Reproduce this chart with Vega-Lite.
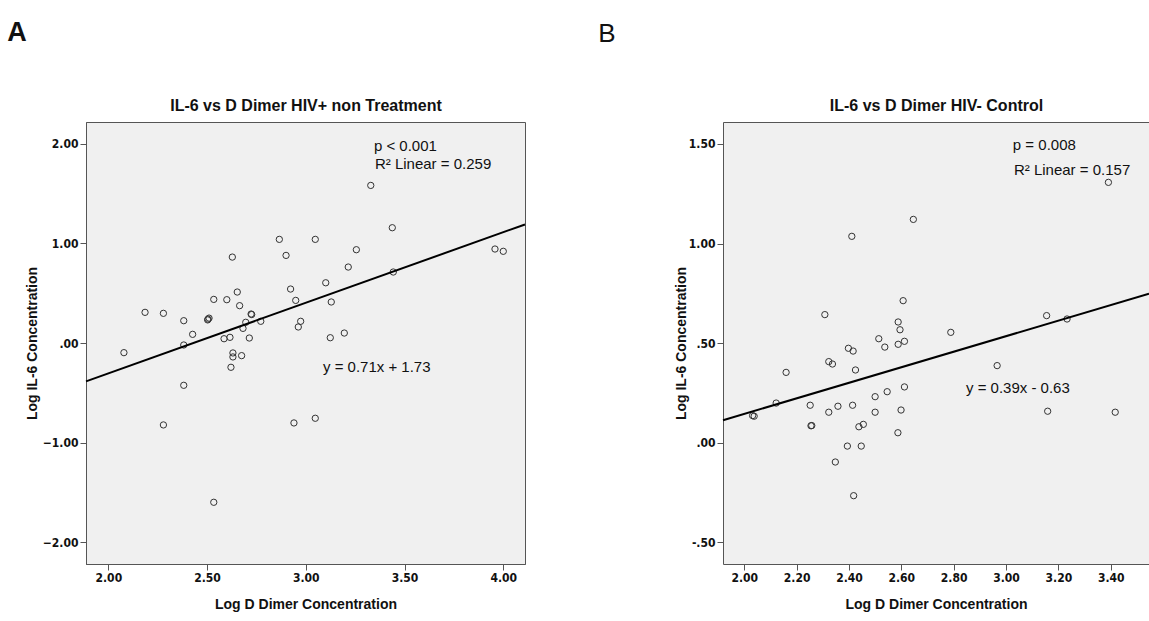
{
  "$schema": "https://vega.github.io/schema/vega-lite/v6.json",
  "background": "white",
  "padding": {"left": 6, "top": 18, "right": 0, "bottom": 5},
  "spacing": 68,
  "config": {
    "font": "Liberation Sans",
    "view": {"fill": "#f0f0f0", "stroke": "#555", "strokeWidth": 1},
    "axis": {
      "domainColor": "#555", "tickColor": "#555", "tickSize": 6, "labelPadding": 2,
      "labelFont": "'DejaVu Sans Condensed', 'Liberation Sans', sans-serif", "labelFontWeight": "bold", "labelFontSize": 12, "labelColor": "#111",
      "titleFont": "Liberation Sans", "titleFontWeight": "bold", "titleFontSize": 14, "titleColor": "#111",
      "grid": false
    },
    "title": {"font": "Liberation Sans", "color": "#111"}
  },
  "datasets": {
    "a": [
      {"x": 2.079, "y": -0.097}, {"x": 2.186, "y": 0.308}, {"x": 2.279, "y": 0.298}, {"x": 2.279, "y": -0.823},
      {"x": 2.382, "y": 0.224}, {"x": 2.382, "y": -0.02}, {"x": 2.382, "y": -0.425}, {"x": 2.427, "y": 0.087},
      {"x": 2.505, "y": 0.24}, {"x": 2.51, "y": 0.25}, {"x": 2.503, "y": 0.232}, {"x": 2.534, "y": 0.438},
      {"x": 2.534, "y": -1.6}, {"x": 2.586, "y": 0.043}, {"x": 2.6, "y": 0.435}, {"x": 2.616, "y": 0.057},
      {"x": 2.621, "y": -0.244}, {"x": 2.628, "y": 0.863}, {"x": 2.631, "y": -0.1}, {"x": 2.631, "y": -0.14},
      {"x": 2.653, "y": 0.512}, {"x": 2.665, "y": 0.375}, {"x": 2.675, "y": -0.127}, {"x": 2.682, "y": 0.147},
      {"x": 2.696, "y": 0.208}, {"x": 2.714, "y": 0.05}, {"x": 2.723, "y": 0.291}, {"x": 2.726, "y": 0.286},
      {"x": 2.772, "y": 0.218}, {"x": 2.866, "y": 1.041}, {"x": 2.9, "y": 0.88}, {"x": 2.923, "y": 0.542},
      {"x": 2.94, "y": -0.803}, {"x": 2.949, "y": 0.428}, {"x": 2.962, "y": 0.161}, {"x": 2.974, "y": 0.218},
      {"x": 3.048, "y": 1.041}, {"x": 3.048, "y": -0.756}, {"x": 3.101, "y": 0.605}, {"x": 3.124, "y": 0.053},
      {"x": 3.129, "y": 0.412}, {"x": 3.195, "y": 0.1}, {"x": 3.215, "y": 0.763}, {"x": 3.256, "y": 0.937},
      {"x": 3.329, "y": 1.583}, {"x": 3.438, "y": 1.158}, {"x": 3.443, "y": 0.713}, {"x": 3.958, "y": 0.944},
      {"x": 4.0, "y": 0.921}
    ],
    "b": [
      {"x": 2.032, "y": 0.136}, {"x": 2.038, "y": 0.133}, {"x": 2.122, "y": 0.199}, {"x": 2.16, "y": 0.353},
      {"x": 2.252, "y": 0.188}, {"x": 2.255, "y": 0.085}, {"x": 2.258, "y": 0.086}, {"x": 2.308, "y": 0.643},
      {"x": 2.323, "y": 0.153}, {"x": 2.323, "y": 0.407}, {"x": 2.337, "y": 0.395}, {"x": 2.348, "y": -0.097},
      {"x": 2.358, "y": 0.183}, {"x": 2.394, "y": -0.017}, {"x": 2.398, "y": 0.474}, {"x": 2.411, "y": 1.036},
      {"x": 2.414, "y": 0.188}, {"x": 2.416, "y": 0.46}, {"x": 2.418, "y": -0.266}, {"x": 2.425, "y": 0.365},
      {"x": 2.438, "y": 0.08}, {"x": 2.447, "y": -0.017}, {"x": 2.455, "y": 0.092}, {"x": 2.5, "y": 0.231},
      {"x": 2.5, "y": 0.153}, {"x": 2.514, "y": 0.522}, {"x": 2.537, "y": 0.48}, {"x": 2.546, "y": 0.256},
      {"x": 2.587, "y": 0.05}, {"x": 2.588, "y": 0.606}, {"x": 2.588, "y": 0.494}, {"x": 2.595, "y": 0.567},
      {"x": 2.599, "y": 0.164}, {"x": 2.607, "y": 0.713}, {"x": 2.612, "y": 0.509}, {"x": 2.612, "y": 0.28},
      {"x": 2.646, "y": 1.121}, {"x": 2.789, "y": 0.554}, {"x": 2.966, "y": 0.387}, {"x": 3.155, "y": 0.638},
      {"x": 3.159, "y": 0.158}, {"x": 3.233, "y": 0.621}, {"x": 3.391, "y": 1.307}, {"x": 3.417, "y": 0.153}
    ],
    "lineA": [{"x": 1.887, "y": -0.385}, {"x": 4.11, "y": 1.191}],
    "lineB": [{"x": 1.919, "y": 0.113}, {"x": 3.546, "y": 0.748}],
    "annA": [
      {"x": 3.345, "y": 1.98, "label": "p < 0.001"},
      {"x": 3.35, "y": 1.797, "label": "R² Linear = 0.259"},
      {"x": 3.087, "y": -0.244, "label": "y =  0.71x + 1.73"}
    ],
    "annB": [
      {"x": 3.026, "y": 1.494, "label": "p = 0.008"},
      {"x": 3.03, "y": 1.369, "label": "R² Linear = 0.157"},
      {"x": 2.847, "y": 0.274, "label": "y = 0.39x - 0.63"}
    ]
  },
  "hconcat": [
    {
      "width": 439,
      "height": 442,
      "title": {"text": "A", "anchor": "start", "frame": "bounds", "fontSize": 27, "fontWeight": "bold", "dx": -18, "offset": 50},
      "layer": [
        {
          "data": {"name": "a"},
          "mark": {"type": "point", "shape": "circle", "filled": false, "size": 40, "stroke": "#333", "strokeWidth": 1, "opacity": 1},
          "encoding": {
            "x": {"field": "x", "type": "quantitative", "scale": {"domain": [1.887, 4.11], "nice": false, "zero": false},
                  "axis": {"orient": "bottom", "values": [2, 2.5, 3, 3.5, 4], "format": ".2f", "title": "Log D Dimer Concentration", "titlePadding": 14}},
            "y": {"field": "y", "type": "quantitative", "scale": {"domain": [-2.22, 2.22], "nice": false, "zero": false},
                  "axis": {"values": [-2, -1, 0, 1, 2], "labelExpr": "datum.value == 0 ? '.00' : format(datum.value, '.2f')", "title": "Log IL-6 Concentration", "titlePadding": 3}}
          }
        },
        {
          "data": {"name": "lineA"},
          "mark": {"type": "line", "color": "#000", "strokeWidth": 2},
          "encoding": {
            "x": {"field": "x", "type": "quantitative", "scale": {"domain": [1.887, 4.11], "nice": false, "zero": false},
                  "axis": {"orient": "top", "labels": false, "ticks": false, "domain": false, "title": "IL-6 vs D Dimer HIV+ non Treatment", "titleFontSize": 16, "titlePadding": 9}},
            "y": {"field": "y", "type": "quantitative", "scale": {"domain": [-2.22, 2.22], "nice": false, "zero": false}}
          }
        },
        {
          "data": {"name": "annA"},
          "mark": {"type": "text", "align": "left", "baseline": "middle", "fontSize": 15, "color": "#111"},
          "encoding": {
            "x": {"field": "x", "type": "quantitative", "scale": {"domain": [1.887, 4.11], "nice": false, "zero": false}, "axis": null},
            "y": {"field": "y", "type": "quantitative", "scale": {"domain": [-2.22, 2.22], "nice": false, "zero": false}},
            "text": {"field": "label"}
          }
        }
      ],
      "resolve": {"axis": {"x": "independent"}}
    },
    {
      "width": 426,
      "height": 442,
      "view": {"stroke": null},
      "title": {"text": "B", "anchor": "start", "frame": "bounds", "fontSize": 26, "fontWeight": "normal", "dx": -76, "offset": 50},
      "layer": [
        {
          "data": {"name": "b"},
          "mark": {"type": "point", "shape": "circle", "filled": false, "size": 40, "stroke": "#333", "strokeWidth": 1, "opacity": 1},
          "encoding": {
            "x": {"field": "x", "type": "quantitative", "scale": {"domain": [1.919, 3.546], "nice": false, "zero": false},
                  "axis": {"orient": "bottom", "values": [2, 2.2, 2.4, 2.6, 2.8, 3.0, 3.2, 3.4], "format": ".2f", "title": "Log D Dimer Concentration", "titlePadding": 14}},
            "y": {"field": "y", "type": "quantitative", "scale": {"domain": [-0.609, 1.61], "nice": false, "zero": false},
                  "axis": {"values": [-0.5, 0, 0.5, 1, 1.5], "labelExpr": "datum.value == 0 ? '.00' : datum.value == 0.5 ? '.50' : datum.value == -0.5 ? '-.50' : format(datum.value, '.2f')", "title": "Log IL-6 Concentration", "titlePadding": 0}}
          }
        },
        {
          "data": {"name": "lineB"},
          "mark": {"type": "line", "color": "#000", "strokeWidth": 2},
          "encoding": {
            "x": {"field": "x", "type": "quantitative", "scale": {"domain": [1.919, 3.546], "nice": false, "zero": false},
                  "axis": {"orient": "top", "labels": false, "ticks": false, "domain": true, "title": "IL-6 vs D Dimer HIV- Control", "titleFontSize": 16, "titlePadding": 9}},
            "y": {"field": "y", "type": "quantitative", "scale": {"domain": [-0.609, 1.61], "nice": false, "zero": false}}
          }
        },
        {
          "data": {"name": "annB"},
          "mark": {"type": "text", "align": "left", "baseline": "middle", "fontSize": 15, "color": "#111"},
          "encoding": {
            "x": {"field": "x", "type": "quantitative", "scale": {"domain": [1.919, 3.546], "nice": false, "zero": false}, "axis": null},
            "y": {"field": "y", "type": "quantitative", "scale": {"domain": [-0.609, 1.61], "nice": false, "zero": false}},
            "text": {"field": "label"}
          }
        }
      ],
      "resolve": {"axis": {"x": "independent"}}
    }
  ]
}
